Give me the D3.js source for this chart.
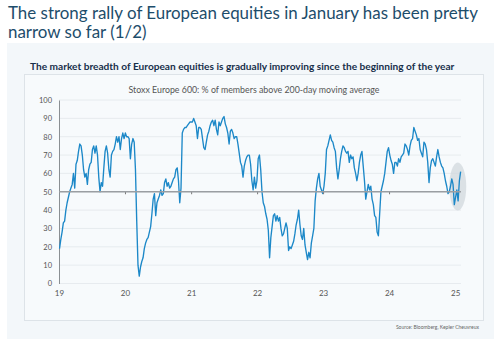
<!DOCTYPE html>
<html>
<head>
<meta charset="utf-8">
<script src="https://cdn.jsdelivr.net/npm/d3@7"></script>
<style>
  body { margin: 0; background: #fff; }
  svg { display: block; }
</style>
</head>
<body>
<div id="chart"></div>
<script>
// weekly readings of % of Stoxx 600 members above their 200-day MA, one array per year
const breadth2019 = [19, 24, 28, 33, 34, 40, 44, 47, 50, 52, 54, 60, 52, 65, 67, 72, 76, 75, 70, 62,
  58, 60, 54, 62, 65, 66, 73, 75, 71, 75, 70, 58, 50, 55, 53, 63, 72, 75, 71, 62,
  58, 70, 72, 73, 76, 80, 77, 80, 73, 79, 82, 79];
const breadth2020 = [82, 80, 80, 79, 68, 76, 79, 77, 62, 34, 10, 4, 9, 12, 14, 19, 22, 24, 25, 28,
  31, 38, 46, 49, 37, 44, 46, 48, 51, 48, 49, 55, 57, 53, 55, 52, 53, 55, 57, 58,
  62, 63, 56, 44, 52, 82, 84, 85, 85, 86, 87, 88];
const breadth2021 = [88, 90, 88, 86, 79, 85, 85, 84, 79, 74, 73, 77, 81, 83, 86, 88, 89, 86, 89, 84,
  81, 88, 86, 88, 90, 91, 87, 85, 82, 76, 83, 84, 82, 79, 80, 80, 76, 71, 66, 64,
  58, 64, 67, 69, 70, 70, 65, 56, 51, 58, 52, 56];
const breadth2022 = [68, 70, 62, 50, 44, 42, 38, 35, 29, 14, 25, 31, 37, 38, 34, 37, 34, 36, 30, 26,
  27, 30, 33, 30, 18, 20, 19, 21, 23, 27, 32, 35, 40, 32, 26, 24, 30, 21, 17, 13,
  17, 14, 22, 26, 30, 45, 52, 57, 60, 53, 51, 49];
const breadth2023 = [53, 60, 73, 75, 78, 81, 78, 77, 74, 72, 63, 57, 62, 68, 72, 75, 74, 72, 71, 72,
  66, 70, 68, 69, 63, 60, 56, 60, 66, 70, 72, 64, 56, 46, 50, 54, 51, 53, 46, 43,
  37, 36, 28, 26, 38, 50, 53, 56, 60, 66, 72, 74];
const breadth2024 = [70, 67, 65, 60, 66, 66, 64, 68, 66, 69, 70, 71, 76, 75, 73, 70, 75, 78, 79, 85,
  83, 81, 78, 79, 73, 71, 69, 77, 76, 73, 66, 55, 63, 67, 68, 66, 64, 69, 73, 69,
  66, 64, 63, 60, 56, 53, 49, 50, 53, 57, 54, 43];
const breadth2025 = [47, 51, 45, 56, 61];

const firstWeek = { 2019: "2019-01-04", 2020: "2020-01-03", 2021: "2021-01-08", 2022: "2022-01-07",
  2023: "2023-01-06", 2024: "2024-01-05", 2025: "2025-01-03" };
const yearTicks = ["2019", "2020", "2021", "2022", "2023", "2024", "2025"];
const yTicks = [0, 10, 20, 30, 40, 50, 60, 70, 80, 90, 100];

const title = ["The strong rally of European equities in January has been pretty", "narrow so far (1/2)"];
const subtitle = "The market breadth of European equities is gradually improving since the beginning of the year";
const chartTitle = "Stoxx Europe 600: % of members above 200-day moving average";
const source = "Source: Bloomberg, Kepler Cheuvreux";

const parse = d3.timeParse("%Y-%m-%d");
const byYear = {
  2019: breadth2019, 2020: breadth2020, 2021: breadth2021, 2022: breadth2022,
  2023: breadth2023, 2024: breadth2024, 2025: breadth2025
};
const data = [];
Object.keys(byYear).forEach(yr => {
  const start = parse(firstWeek[yr]);
  byYear[yr].forEach((v, i) => data.push({ date: d3.timeDay.offset(start, i * 7), value: v }));
});

const W = 494, H = 343;
const margin = { t: 100, r: 33, b: 60, l: 59 };

const svg = d3.select('#chart').append('svg')
  .attr('width', W)
  .attr('height', H)
  .style('font-family', 'Lato, "Open Sans", sans-serif');

// scale a text's font size so that it spans a given width
function fitWidth(sel, target) {
  const fs = parseFloat(sel.attr('font-size'));
  const len = sel.node().getComputedTextLength();
  sel.attr('font-size', (fs * target / len).toFixed(2));
}

svg.selectAll('.title')
  .data(title)
  .join('text')
  .attr('class', 'title')
  .attr('x', 8)
  .attr('y', (d, i) => 19 + i * 19)
  .attr('font-size', 18)
  .attr('fill', '#1d4d6b')
  .text(d => d)
  .each(function(d, i) { if (i === 0) fitWidth(d3.select(this), 470); });
// second line uses the same size as the first
const fsTitle = svg.select('.title').attr('font-size');
svg.selectAll('.title').attr('font-size', fsTitle);

// light panel
svg.append('rect')
  .attr('x', 7).attr('y', 43)
  .attr('width', W - 7).attr('height', 296)
  .attr('fill', '#f3f7fa');

const sub = svg.append('text')
  .attr('x', 30).attr('y', 70)
  .attr('font-size', 10.5)
  .attr('font-weight', 'bold')
  .attr('fill', '#172f4a')
  .text(subtitle);
fitWidth(sub, 425);

svg.append('rect')
  .attr('x', 24.5).attr('y', 74.5)
  .attr('width', 459).attr('height', 246)
  .attr('fill', '#f7fafc')
  .attr('stroke', '#dde3e8');

const ct = svg.append('text')
  .attr('x', 254).attr('y', 93)
  .attr('text-anchor', 'middle')
  .attr('font-size', 9)
  .attr('fill', '#555')
  .text(chartTitle);
fitWidth(ct, 251);

svg.append('text')
  .attr('x', 479).attr('y', 329)
  .attr('text-anchor', 'end')
  .attr('font-size', 5)
  .attr('fill', '#666')
  .text(source);

const x = d3.scaleTime()
  .domain([parse("2019-01-01"), parse("2025-02-02")])
  .range([margin.l, W - margin.r]);
const y = d3.scaleLinear()
  .domain([0, 100])
  .range([283.5, margin.t]);

// grid
svg.append('g')
  .selectAll('line')
  .data(yTicks)
  .join('line')
  .attr('x1', margin.l).attr('x2', W - margin.r)
  .attr('y1', d => y(d)).attr('y2', d => y(d))
  .attr('stroke', '#e2e7eb')
  .attr('stroke-width', 0.8);

// y axis
const yAxis = svg.append('g')
  .attr('transform', `translate(${margin.l},0)`)
  .call(d3.axisLeft(y).tickValues(yTicks).tickSize(0).tickPadding(7));
yAxis.select('.domain').attr('stroke', '#8a8f93');
yAxis.selectAll('text').attr('font-size', 7.5).attr('fill', '#555').attr('font-family', 'Lato, sans-serif');

// x labels at the bottom
const xAxis = svg.append('g')
  .attr('transform', `translate(0,${y(0)})`)
  .call(d3.axisBottom(x).tickValues(yearTicks.map(d => parse(d + "-01-01"))).tickSize(0).tickPadding(7)
    .tickFormat(d3.timeFormat('%y')));
xAxis.select('.domain').remove();
xAxis.selectAll('text').attr('font-size', 8).attr('fill', '#555').attr('font-family', 'Lato, sans-serif');

// highlight of the latest readings
svg.append('ellipse')
  .attr('cx', x(parse("2025-01-15")))
  .attr('cy', y(52.8))
  .attr('rx', 8.5)
  .attr('ry', y(40) - y(52.8) + 0.5)
  .attr('fill', '#cfd6dc')
  .attr('opacity', 0.7);

const line = d3.line()
  .x(d => x(d.date))
  .y(d => y(d.value));

svg.append('path')
  .datum(data)
  .attr('d', line)
  .attr('fill', 'none')
  .attr('stroke', '#1c88c8')
  .attr('stroke-width', 1.35)
  .attr('stroke-linejoin', 'round');

// 50% reference line with the year ticks on it
const midAxis = svg.append('g')
  .attr('transform', `translate(0,${y(50)})`)
  .call(d3.axisBottom(x).tickValues(yearTicks.slice(1, -1).map(d => parse(d + "-01-01"))).tickSize(2.5).tickFormat(''));
midAxis.select('.domain').remove();
midAxis.selectAll('line').attr('stroke', '#777');

svg.append('line')
  .attr('x1', margin.l).attr('x2', W - margin.r)
  .attr('y1', y(50)).attr('y2', y(50))
  .attr('stroke', '#9a9ea2')
  .attr('stroke-width', 1.5);
</script>
</body>
</html>
